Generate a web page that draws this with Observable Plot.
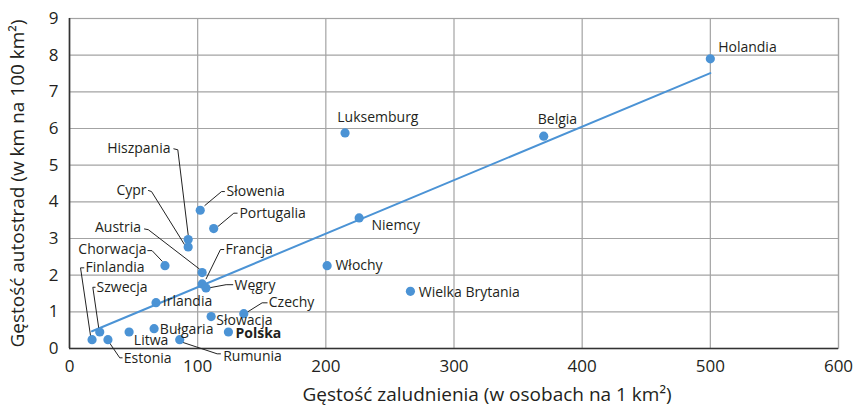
<!DOCTYPE html>
<html>
<head>
<meta charset="utf-8">
<script src="https://cdn.jsdelivr.net/npm/d3@7"></script>
<script src="https://cdn.jsdelivr.net/npm/@observablehq/plot@0.6"></script>
<style>
  body { margin: 0; background: #fff; }
  #chart svg { display: block; }
</style>
</head>
<body>
<div id="chart"></div>
<script>
// ---- data ----
const countries = ["Finlandia","Szwecja","Estonia","Litwa","Bułgaria","Irlandia","Chorwacja","Rumunia","Hiszpania","Cypr","Słowenia","Austria","Francja","Węgry","Słowacja","Portugalia","Polska","Czechy","Włochy","Luksemburg","Niemcy","Wielka Brytania","Belgia","Holandia"];
const populationDensity = [17.6, 23.6, 30, 46.5, 66, 67.5, 74.5, 86, 92.6, 92.6, 102, 103.5, 103.5, 106.5, 110.5, 112.5, 124, 136, 201, 215, 226, 266, 370, 500];
const motorwayDensity   = [0.24, 0.45, 0.24, 0.45, 0.54, 1.25, 2.26, 0.24, 2.97, 2.77, 3.77, 2.07, 1.76, 1.65, 0.87, 3.27, 0.45, 0.95, 2.26, 5.88, 3.56, 1.56, 5.79, 7.9];
const xTicks = [0, 100, 200, 300, 400, 500, 600];
const yTicks = [0, 1, 2, 3, 4, 5, 6, 7, 8, 9];
const trendX = [17.6, 500];
const trendY = [0.47, 7.51];
const xTitle = "Gęstość zaludnienia (w osobach na 1 km²)";
const yTitle = "Gęstość autostrad (w km na 100 km²)";
const boldLabels = ["Polska"];

// ---- label layout (data units) ----
const labelLayout = [
  {name: "Holandia", lx: 506.1, ly: 8.22, anchor: "start"},
  {name: "Belgia", lx: 380.7, ly: 6.245, anchor: "middle"},
  {name: "Luksemburg", lx: 208.9, ly: 6.29, anchor: "start"},
  {name: "Niemcy", lx: 235.6, ly: 3.354, anchor: "start"},
  {name: "Włochy", lx: 207.5, ly: 2.263, anchor: "start"},
  {name: "Wielka Brytania", lx: 272.5, ly: 1.535, anchor: "start"},
  {name: "Hiszpania", lx: 78.8, ly: 5.446, anchor: "end", leader: [[81.4,5.446],[84.5,5.42],[92.6,3.1]]},
  {name: "Cypr", lx: 60.1, ly: 4.309, anchor: "end", leader: [[61.6,4.309],[64.0,4.28],[89.6,2.84]]},
  {name: "Słowenia", lx: 122.5, ly: 4.28, anchor: "start", leader: [[120.9,4.28],[118.6,4.28],[105.6,3.9]]},
  {name: "Portugalia", lx: 132.6, ly: 3.673, anchor: "start", leader: [[130.8,3.69],[128.2,3.69],[115.9,3.33]]},
  {name: "Austria", lx: 55.9, ly: 3.29, anchor: "end", leader: [[58.5,3.26],[61.5,3.24],[101.3,2.17]]},
  {name: "Chorwacja", lx: 60.1, ly: 2.69, anchor: "end", leader: [[61.1,2.67],[64.4,2.67],[72.3,2.38]]},
  {name: "Francja", lx: 121.7, ly: 2.70, anchor: "start", leader: [[120.4,2.70],[117.8,2.70],[106.6,1.9]]},
  {name: "Węgry", lx: 128.7, ly: 1.718, anchor: "start", leader: [[127.4,1.74],[122.2,1.74],[109.8,1.66]]},
  {name: "Irlandia", lx: 72.8, ly: 1.27, anchor: "start"},
  {name: "Czechy", lx: 155.5, ly: 1.246, anchor: "start", leader: [[154.2,1.246],[150.3,1.246],[138.6,0.99]]},
  {name: "Słowacja", lx: 114.5, ly: 0.764, anchor: "start"},
  {name: "Polska", lx: 129.5, ly: 0.417, anchor: "start"},
  {name: "Bułgaria", lx: 70.5, ly: 0.51, anchor: "start"},
  {name: "Litwa", lx: 50.2, ly: 0.218, anchor: "start"},
  {name: "Estonia", lx: 42.4, ly: -0.28, anchor: "start", leader: [[31.4,0.145],[39.2,-0.254],[41.1,-0.254]]},
  {name: "Rumunia", lx: 119.9, ly: -0.218, anchor: "start", leader: [[87.9,0.172],[115.2,-0.145],[117.8,-0.145]]},
  {name: "Finlandia", lx: 12.5, ly: 2.2, anchor: "start", leader: [[11.2,2.2],[8.6,2.2],[16.4,0.35]]},
  {name: "Szwecja", lx: 21.1, ly: 1.67, anchor: "start", leader: [[20.0,1.67],[18.2,1.67],[22.9,0.535]]}
];

const points = countries.map((c, i) => ({name: c, x: populationDensity[i], y: motorwayDensity[i]}));
const trend = trendX.map((x, i) => ({x, y: trendY[i]}));
const leaderRows = labelLayout.filter(d => d.leader).flatMap(d => d.leader.map(([x, y]) => ({name: d.name, x, y})));

const blue = "#4b93d5";
const gridColor = "#a3a3a3";
const textColor = "#231f20";
const FONT = "'Open Sans', 'Noto Sans', sans-serif";

function labelMark(anchor, bold) {
  return Plot.text(labelLayout.filter(d => d.anchor === anchor && boldLabels.includes(d.name) === bold), {
    x: "lx", y: "ly", text: "name", textAnchor: anchor,
    fontSize: 14, fill: textColor, fontWeight: bold ? "bold" : "normal"
  });
}

const chart = Plot.plot({
  width: 854,
  height: 411,
  marginLeft: 69,
  marginRight: 16,
  marginTop: 18,
  marginBottom: 63,
  style: {fontFamily: FONT, color: textColor, background: "#fff"},
  x: {domain: [0, 600]},
  y: {domain: [0, 9]},
  marks: [
    Plot.gridX(xTicks, {stroke: gridColor, strokeOpacity: 1, strokeWidth: 1.2}),
    Plot.gridY(yTicks, {stroke: gridColor, strokeOpacity: 1, strokeWidth: 1.2}),
    Plot.frame({stroke: gridColor, strokeWidth: 1.2}),
    Plot.axisX(xTicks, {tickSize: 0, tickPadding: 11, fontSize: 17, label: null, fill: textColor}),
    Plot.axisY(yTicks, {tickSize: 0, tickPadding: 11, fontSize: 17, label: null, fill: textColor}),
    Plot.ruleY([0], {stroke: "#333", strokeWidth: 1.6}),
    Plot.ruleX([0], {stroke: "#333", strokeWidth: 1.6}),
    Plot.line(trend, {x: "x", y: "y", stroke: blue, strokeWidth: 2}),
    Plot.line(leaderRows, {x: "x", y: "y", z: "name", stroke: "#222", strokeWidth: 1}),
    Plot.dot(points, {x: "x", y: "y", r: 4.6, fill: blue}),
    labelMark("start", false),
    labelMark("start", true),
    labelMark("end", false),
    labelMark("middle", false),
    Plot.text([xTitle], {text: d => d, frameAnchor: "bottom", textAnchor: "middle", dx: 33, dy: 52, fontSize: 19, fill: textColor}),
    Plot.text([yTitle], {text: d => d, frameAnchor: "left", textAnchor: "middle", rotate: -90, dx: -52, fontSize: 19, fill: textColor})
  ]
});
document.getElementById("chart").appendChild(chart);
</script>
</body>
</html>
